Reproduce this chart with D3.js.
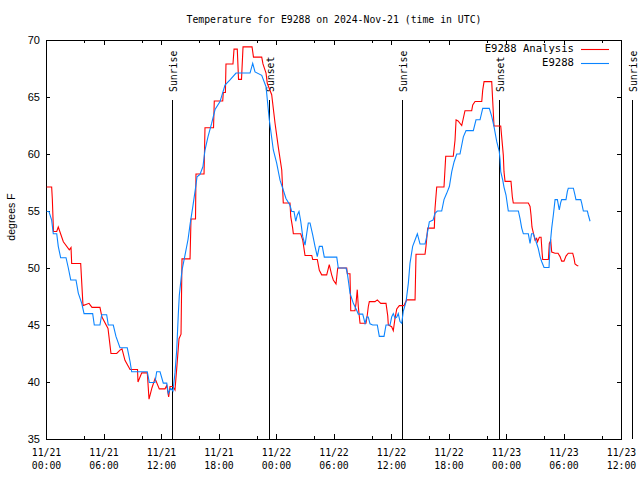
<!DOCTYPE html>
<html><head><meta charset="utf-8">
<script src="https://cdn.jsdelivr.net/npm/d3@7"></script>
<style>body{margin:0;background:#fff}</style>
</head><body>
<svg id="c" width="640" height="480"></svg>
<script>
// Hours after 2024-11-21 00:00 UTC, temperatures in degrees F
const analysisHours = [0.07,0.59,0.66,0.78,1.12,1.28,1.81,2.43,2.61,2.68,3.62,3.86,4.17,4.49,4.80,5.63,5.84,6.47,6.78,7.38,7.72,7.93,8.24,8.77,9.55,9.60,9.99,10.57,10.75,11.06,11.38,11.82,12.42,12.60,12.80,12.94,13.25,13.46,13.67,13.88,14.09,14.19,15.03,15.13,15.60,15.65,16.49,16.59,17.48,17.56,18.44,18.50,18.72,18.78,19.51,19.62,19.96,20.09,20.40,20.56,21.50,21.65,22.51,22.64,22.96,23.09,23.55,23.90,24.24,24.60,24.76,25.46,25.54,25.74,25.81,26.58,26.79,27.03,27.73,27.83,28.31,28.52,28.77,29.29,29.56,29.81,29.98,30.26,30.44,31.38,31.44,31.72,31.80,32.24,32.35,32.48,32.59,32.77,33.39,33.53,33.63,33.74,34.33,34.57,34.93,35.48,35.66,35.72,36.07,36.24,36.42,36.60,36.87,37.36,37.46,37.64,38.51,38.61,39.55,39.65,39.83,40.52,40.59,40.77,41.53,41.71,42.50,42.68,42.79,43.00,43.38,43.72,44.42,44.53,44.77,45.47,45.57,45.71,46.51,46.61,46.75,47.45,47.55,47.72,47.79,47.90,48.52,48.66,48.76,50.33,50.51,50.61,50.71,50.79,51.03,51.20,51.29,51.48,51.66,51.76,51.83,52.42,52.52,52.67,52.77,53.12,53.43,53.64,53.81,54.05,54.26,54.50,54.96,55.10,55.20,55.44,55.55];
const analysisTemps = [57.1,57.1,56.05,53.2,53.2,53.6,52.3,51.6,51.8,50.4,50.4,46.7,46.8,46.9,46.55,46.55,45.7,44.7,42.5,42.5,42.8,42.9,41.9,41.1,41.1,40.0,40.8,40.8,38.5,39.5,40.3,39.4,39.4,39.7,38.7,39.6,39.6,39.3,41.5,43.8,44.2,50.8,50.8,54.3,54.3,58.25,58.25,62.3,62.3,64.65,64.65,65.4,65.4,67.9,67.9,69.2,69.2,66.55,66.55,69.4,69.4,68.5,68.5,67.9,67.1,66.2,65.2,62.7,60.6,58.6,55.7,55.7,54.5,53.5,53.0,53.0,52.45,51.1,51.1,50.75,50.75,49.8,49.4,49.4,50.3,49.4,48.95,48.6,50.0,50.0,49.5,49.5,46.25,46.25,46.9,48.1,46.6,45.15,45.15,45.9,46.6,47.05,47.05,47.2,46.9,46.9,45.8,45.0,44.85,44.5,45.6,46.4,46.7,46.7,46.9,47.2,47.2,51.2,51.2,51.9,53.5,53.5,55.2,57.1,57.1,59.8,59.8,61.2,63.0,62.9,62.5,63.8,63.8,64.3,64.6,64.6,65.6,66.35,66.35,64.7,62.45,62.45,61.5,59.9,58.45,57.6,57.6,56.25,55.7,55.7,55.4,54.65,53.6,53.3,52.45,52.6,52.3,52.7,52.7,51.4,50.75,50.75,52.15,52.4,51.4,51.3,51.3,51.0,50.6,50.6,51.05,51.3,51.3,50.85,50.35,50.2,50.2];

const obsHours = [0.07,0.31,0.59,0.76,1.12,1.28,1.53,2.09,2.33,2.58,3.13,3.37,3.73,3.97,4.87,5.04,5.63,5.81,6.33,6.50,7.02,7.30,7.72,8.48,8.77,8.94,10.57,10.78,11.37,11.55,11.90,12.24,12.60,12.76,13.01,13.25,13.46,13.64,13.81,13.91,14.19,14.50,14.82,15.03,15.34,15.65,15.76,16.07,16.38,16.59,16.90,17.29,17.64,18.16,18.68,19.20,19.83,21.29,21.57,21.81,22.51,22.96,23.30,23.72,24.07,24.42,24.70,25.04,25.46,25.64,25.88,26.06,26.22,26.40,26.58,26.79,27.03,27.20,27.37,27.55,27.83,28.07,28.31,28.52,28.83,29.04,30.34,30.50,31.31,31.44,31.59,31.72,32.07,32.42,32.59,33.05,33.29,33.47,33.63,33.81,34.09,34.57,34.78,35.27,35.48,35.90,36.07,36.24,36.42,36.60,36.76,36.94,37.12,37.28,37.57,37.81,37.98,38.26,38.51,38.75,39.03,39.55,39.73,40.00,40.39,40.59,40.83,41.29,41.53,41.81,42.09,42.34,42.58,42.86,43.20,43.55,43.83,44.59,44.87,45.29,45.57,46.26,46.51,46.75,47.03,47.30,47.38,47.45,47.66,47.79,48.00,48.24,49.29,49.46,49.64,49.81,50.33,50.51,50.66,50.85,51.03,51.20,51.37,51.55,51.73,51.97,52.49,52.59,52.77,52.94,53.12,53.36,53.56,53.71,53.81,54.26,54.40,54.50,55.03,55.20,55.30,55.80,55.90,56.07,56.49,56.59,56.77];
const obsTemps = [54.95,54.95,54.2,53.0,53.0,51.9,50.9,50.9,50.0,48.95,48.95,47.8,46.9,46.0,46.0,45.0,45.0,45.9,45.9,45.0,45.0,44.0,43.0,43.0,41.8,40.9,40.9,39.95,39.95,40.9,40.9,39.9,39.9,39.0,39.45,39.2,40.8,42.8,46.0,47.6,49.8,51.1,52.5,53.8,55.5,57.3,58.0,58.2,58.9,60.35,61.5,62.7,63.9,64.6,66.05,66.5,67.1,67.1,67.95,67.2,66.9,65.9,63.0,60.35,59.2,57.7,57.0,56.1,55.5,54.95,54.95,54.1,54.65,54.95,54.1,52.75,52.0,53.0,53.95,53.95,52.9,51.9,51.0,51.9,51.9,50.95,50.95,50.0,50.0,49.55,48.65,47.8,46.9,46.3,45.95,45.95,45.15,45.7,45.7,45.1,45.0,45.0,44.0,44.0,45.0,45.0,45.7,46.0,45.6,45.7,46.0,45.3,45.15,46.2,47.05,48.65,50.4,51.9,52.45,53.0,52.1,52.1,52.75,54.05,54.2,54.8,55.0,55.0,56.0,56.55,57.15,58.45,59.3,60.0,60.0,61.5,62.05,62.05,63.0,63.0,64.0,64.0,63.3,62.4,61.1,60.2,59.5,58.45,57.7,57.1,56.4,55.0,55.0,54.35,53.5,53.0,53.0,52.15,53.0,53.0,52.6,52.15,51.7,51.0,50.55,50.05,50.05,51.9,53.5,54.65,56.0,56.0,55.1,55.75,56.0,56.0,56.7,57.0,57.0,56.4,56.0,56.0,55.7,55.0,55.0,54.65,54.1];

const sunHours = [13.15, 23.27, 37.15, 47.27, 61.15];
const sunLabels = ["Sunrise", "Sunset", "Sunrise", "Sunset", "Sunrise"];
const yTicks = [35, 40, 45, 50, 55, 60, 65, 70];
const majorTickHours = [0,6,12,18,24,30,36,42,48,54,60];
const minorTickHours = [4,10,16,22,28,34,40,46,52,58];
const seriesNames = ["E9288 Analysis", "E9288"];
const seriesColors = ["#ff0000", "#0a84ff"];
const titleText = "Temperature for E9288 on 2024-Nov-21 (time in UTC)";
const yLabel = "degrees F";

const t0 = Date.UTC(2024, 10, 21, 0, 0);
const toDate = h => new Date(t0 + h * 3600e3);

const L = 46, R = 621, T = 40, B = 439;
const x = d3.scaleUtc().domain([toDate(0), toDate(60)]).range([L, R]);
const y = d3.scaleLinear().domain([35, 70]).range([B, T]);

const svg = d3.select("#c");
const mono = "'DejaVu Sans Mono', monospace";

// title
svg.append("text").attr("x", 334).attr("y", 20).attr("text-anchor", "middle")
  .attr("dominant-baseline", "middle").attr("font-family", mono).attr("font-size", 9.8)
  .text(titleText);

// axes (ticks inward, mirrored)
const fmtD = d3.utcFormat("%m/%d"), fmtT = d3.utcFormat("%H:%M");
const gB = svg.append("g").attr("transform", `translate(0,${B})`)
  .call(d3.axisBottom(x).tickValues(majorTickHours.map(toDate)).tickSizeInner(-5).tickSizeOuter(0).tickPadding(10).tickFormat(""));
gB.selectAll(".tick").each(function(d) {
  const t = d3.select(this).select("text");
  t.attr("font-family", mono).attr("font-size", 9.8).attr("fill", "#000");
  t.append("tspan").attr("x", 0).attr("dy", "0.7em").text(fmtD(d));
  t.append("tspan").attr("x", 0).attr("dy", "1.35em").text(fmtT(d));
});
svg.append("g").attr("transform", `translate(0,${B})`)
  .call(d3.axisBottom(x).tickValues(minorTickHours.map(toDate)).tickSizeInner(-3).tickSizeOuter(0).tickFormat(""));
svg.append("g").attr("transform", `translate(0,${T})`)
  .call(d3.axisTop(x).tickValues(majorTickHours.map(toDate)).tickSizeInner(-5).tickSizeOuter(0).tickFormat(""));
svg.append("g").attr("transform", `translate(0,${T})`)
  .call(d3.axisTop(x).tickValues(minorTickHours.map(toDate)).tickSizeInner(-3).tickSizeOuter(0).tickFormat(""));
const gL = svg.append("g").attr("transform", `translate(${L},0)`)
  .call(d3.axisLeft(y).tickValues(yTicks).tickSizeInner(-4).tickSizeOuter(0).tickPadding(6).tickFormat(d3.format("d")));
gL.selectAll("text").attr("font-family", "'Liberation Sans', Arial, sans-serif").attr("font-size", 11).attr("fill", "#000");
svg.append("g").attr("transform", `translate(${R},0)`)
  .call(d3.axisRight(y).tickValues(yTicks).tickSizeInner(-4).tickSizeOuter(0).tickFormat(""));
svg.selectAll(".domain").remove();
svg.selectAll(".tick line").attr("stroke", "#000").attr("shape-rendering", "crispEdges");

// frame
svg.append("rect").attr("x", L + 0.5).attr("y", T + 0.5).attr("width", R - L).attr("height", B - T)
  .attr("fill", "none").attr("stroke", "#000").attr("shape-rendering", "crispEdges");

// y label
svg.append("text").attr("transform", "translate(12,217) rotate(-90)")
  .attr("text-anchor", "middle").attr("dominant-baseline", "middle")
  .attr("font-family", "'Liberation Sans', Arial, sans-serif").attr("font-size", 10.5).text(yLabel);

// sun lines
sunHours.forEach((h, i) => {
  const sx = Math.round(x(toDate(h))) + 0.5;
  svg.append("line").attr("x1", sx).attr("x2", sx).attr("y1", y(64.75)).attr("y2", B)
    .attr("stroke", "#000").attr("shape-rendering", "crispEdges");
  svg.append("text").attr("transform", `translate(${sx + 4.5},92) rotate(-90)`)
    .attr("text-anchor", "start").attr("font-family", mono).attr("font-size", 9.8).text(sunLabels[i]);
});

// series
const line = d3.line().x(d => x(toDate(d[0]))).y(d => y(d[1]));
const analysis = analysisHours.map((h, i) => [h, analysisTemps[i]]);
const obs = obsHours.map((h, i) => [h, obsTemps[i]]);
svg.append("path").datum(analysis).attr("d", line).attr("fill", "none")
  .attr("stroke", seriesColors[0]).attr("stroke-width", 1.1);
svg.append("path").datum(obs).attr("d", line).attr("fill", "none")
  .attr("stroke", seriesColors[1]).attr("stroke-width", 1.1);

// legend
seriesNames.forEach((n, i) => {
  const ly = 49 + i * 14;
  svg.append("text").attr("x", 574).attr("y", ly).attr("text-anchor", "end")
    .attr("dominant-baseline", "middle").attr("font-family", mono).attr("font-size", 10.6).text(n);
  svg.append("line").attr("x1", 581).attr("x2", 609).attr("y1", ly + 0.5).attr("y2", ly + 0.5)
    .attr("stroke", seriesColors[i]).attr("stroke-width", 1.1);
});
</script>
</body></html>
